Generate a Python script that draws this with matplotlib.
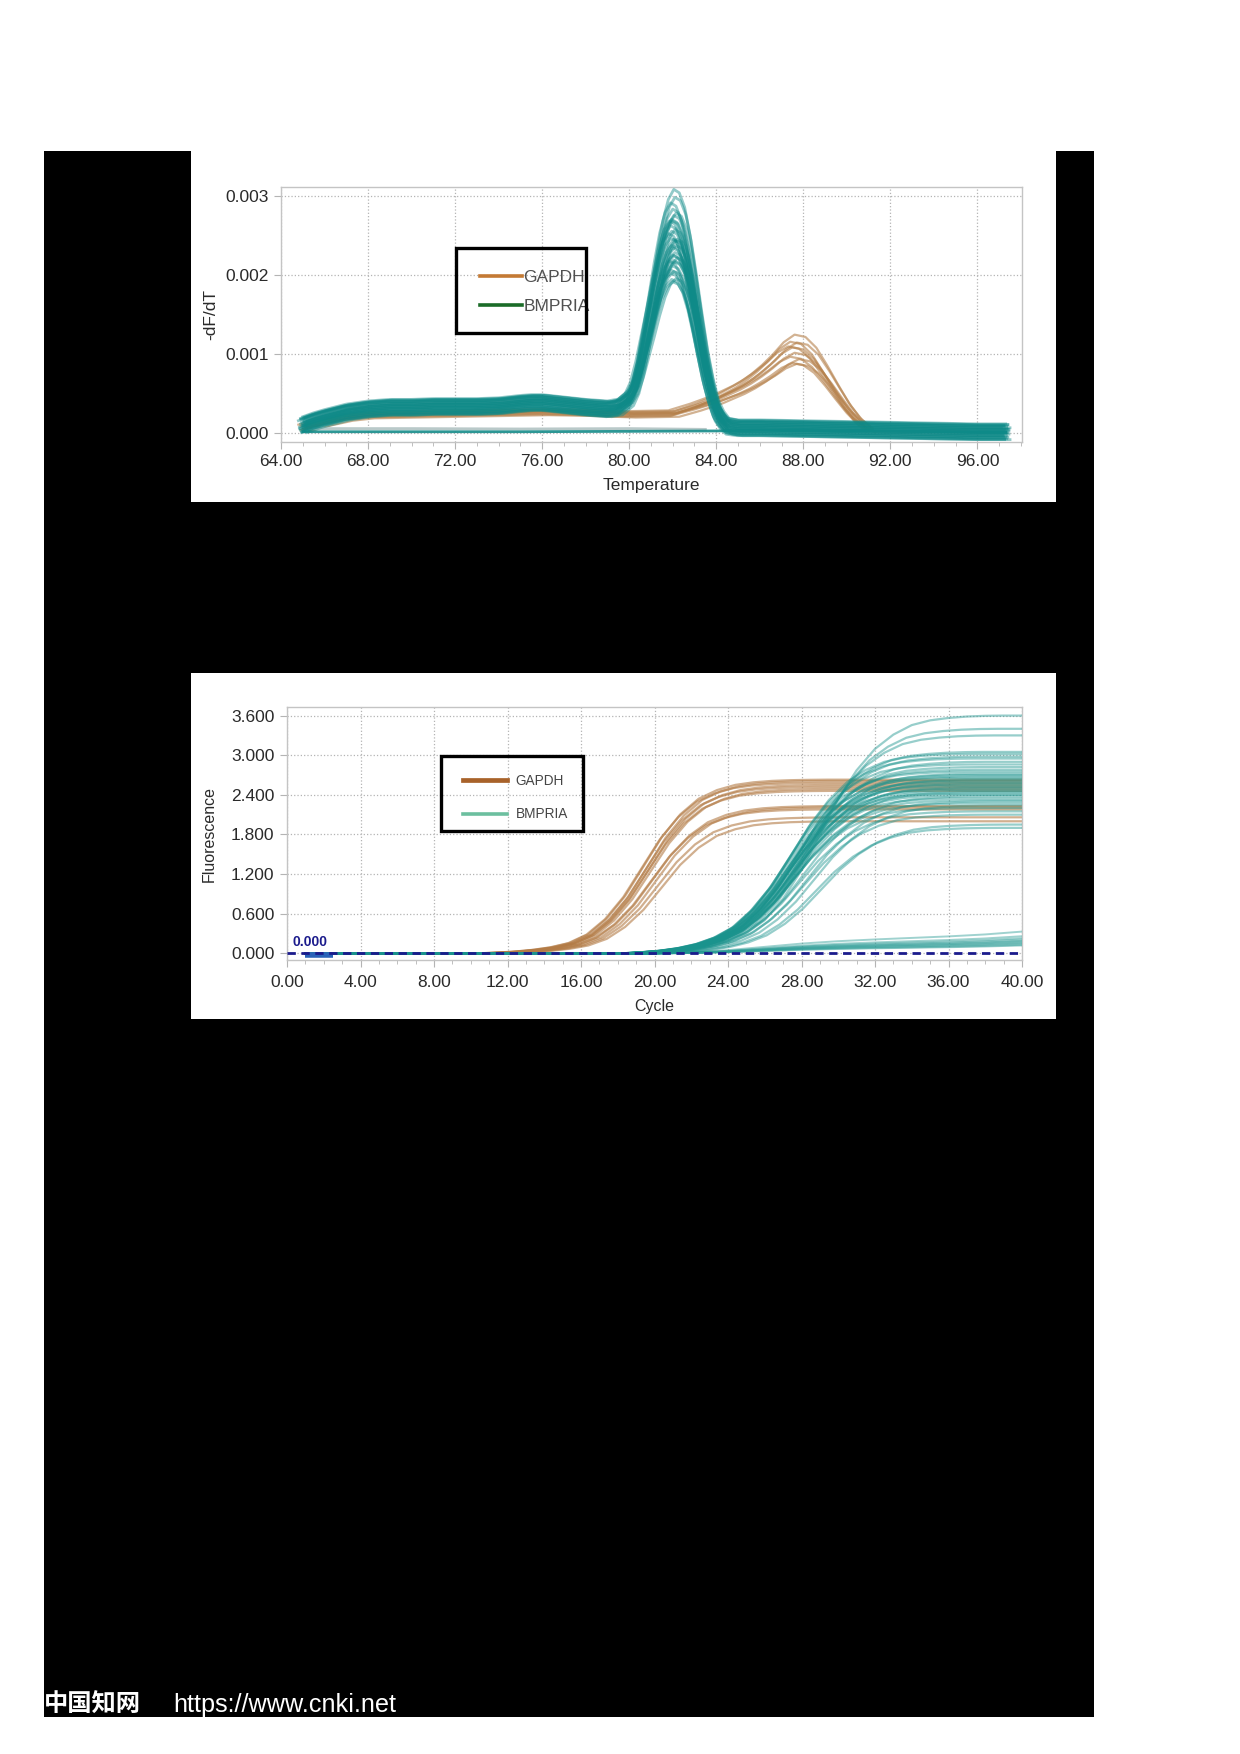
import numpy as np
import matplotlib
matplotlib.use('Agg')
import matplotlib.pyplot as plt
from matplotlib.patches import Rectangle
from matplotlib.lines import Line2D
from matplotlib.ticker import MultipleLocator, FormatStrFormatter

plt.rcParams['font.family'] = ['Liberation Sans', 'DejaVu Sans']

W, H = 1240, 1754

# ---------------- melt curve data (-dF/dT, values in 1e-4) ----------------
teal_temp = [65.0, 65.5, 66.0, 67.0, 68.0, 69.0, 70.0, 71.0, 72.0, 73.0, 74.0, 75.0, 75.5, 76.0,
             77.0, 78.0, 79.0, 79.5,
             80.0, 80.25, 80.5, 80.75, 81.0, 81.25, 81.5, 81.75, 82.0, 82.25, 82.5, 82.75, 83.0,
             83.25, 83.5, 83.75, 84.0, 84.25, 84.5,
             85.0, 86.0, 88.0, 90.0, 92.0, 94.0, 96.0, 97.3]
teal_base = [1.0, 1.5, 1.9, 2.6, 3.0, 3.2, 3.2, 3.3, 3.3, 3.3, 3.4, 3.7, 3.8, 3.8,
             3.5, 3.2, 3.0, 3.0,
             3.0, 2.9, 2.8, 2.7, 2.6, 2.45, 2.3, 2.15, 2.0, 1.85, 1.7, 1.55, 1.4,
             1.2, 1.0, 0.9, 0.8, 0.7, 0.6,
             0.6, 0.6, 0.5, 0.4, 0.3, 0.2, 0.1, 0.1]
teal_shape = [0, 0, 0, 0, 0, 0, 0, 0, 0, 0, 0, 0, 0, 0,
              0, 0, 0, 0.01,
              0.06, 0.13, 0.25, 0.40, 0.55, 0.71, 0.85, 0.95, 1.0, 0.99, 0.93, 0.81, 0.65,
              0.48, 0.32, 0.19, 0.09, 0.04, 0.01,
              0, 0, 0, 0, 0, 0, 0, 0]
teal_melt_peak = [0.00303, 0.00296, 0.00289, 0.00284, 0.00279, 0.00275, 0.00271, 0.00268, 0.00264, 0.00261,
                  0.00258, 0.00255, 0.00252, 0.00250, 0.00247, 0.00244, 0.00241, 0.00238, 0.00236, 0.00233,
                  0.00230, 0.00228, 0.00225, 0.00222, 0.00219, 0.00216, 0.00213, 0.00210, 0.00207, 0.00204,
                  0.00201, 0.00198, 0.00195, 0.00192]
# per-curve baseline offset (1e-4) and temperature shift
teal_melt_offset = [0.6, -0.4, 1.0, 0.0, -0.8, 0.4, -0.2, 0.8, -0.6, 0.2, 1.1, -0.9, 0.4, -0.4, 0.6, 0.0, -0.6,
                    0.9, 0.2, -0.8, 0.8, -0.2, 0.4, -0.4, 0.0, 0.6, -0.6, 0.2, 1.0, -0.9, 0.4, -0.2, 0.8, 0.0]
teal_melt_shift = [0.05, -0.1, 0.1, 0.0, -0.05, 0.15, -0.15, 0.05, 0.1, -0.1, 0.0, 0.2, -0.05, 0.05, -0.2, 0.1,
                   0.0, -0.1, 0.15, 0.05, -0.05, 0.0, 0.1, -0.15, 0.05, 0.2, -0.1, 0.0, 0.1, -0.05, 0.05, 0.15,
                   -0.1, 0.0]

gapdh_temp = [65.0, 65.5, 66.0, 67.0, 68.0, 70.0, 72.0, 74.0, 76.0, 78.0, 80.0, 82.0, 83.0, 84.0, 85.0,
              85.5, 86.0, 86.5, 87.0, 87.5, 88.0, 88.5, 89.0, 89.5, 90.0, 90.5, 91.0]
gapdh_base = [0.7, 1.0, 1.4, 2.0, 2.3, 2.4, 2.5, 2.6, 2.7, 2.6, 2.4, 2.5, 2.7, 2.9, 3.0,
              3.0, 3.0, 2.9, 2.8, 2.7, 2.5, 2.3, 2.0, 1.6, 1.2, 0.8, 0.5]
gapdh_shape = [0, 0, 0, 0, 0, 0, 0, 0, 0, 0, 0, 0, 0.08, 0.18, 0.33,
               0.43, 0.55, 0.70, 0.87, 0.98, 0.97, 0.85, 0.65, 0.44, 0.24, 0.09, 0.0]
gapdh_melt_peak = [0.00122, 0.00119, 0.00114, 0.00110, 0.00106, 0.00102, 0.00098, 0.00095, 0.00091, 0.00087]
gapdh_melt_offset = [0.3, -0.3, 0.1, -0.1, 0.4, 0.0, -0.4, 0.2, -0.2, 0.1]
gapdh_melt_shift = [0.1, -0.1, 0.2, 0.0, -0.2, 0.1, 0.3, -0.1, 0.0, 0.2]

ntc_temp = [65.0, 70.0, 75.0, 80.0, 84.0, 86.0, 90.0, 95.0, 97.3]
ntc_teal = [0.2, 0.2, 0.2, 0.25, 0.3, 0.4, 0.3, 0.2, 0.1]
ntc_gray_temp = [65.5, 70.0, 75.0, 80.0, 83.5]
ntc_gray = [0.6, 0.6, 0.55, 0.6, 0.5]

# ---------------- amplification data ----------------
amp_offset = [-30, -9, -8, -7, -6, -5, -4, -3, -2, -1, 0, 1, 2, 3, 4, 5, 6, 7, 8, 9, 10, 30]
gapdh_frac = [0.0, 0.0, 0.004, 0.01, 0.02, 0.035, 0.06, 0.11, 0.2, 0.33, 0.5, 0.67, 0.8, 0.89, 0.94,
              0.97, 0.985, 0.993, 0.997, 0.999, 1.0, 1.0]
teal_frac = [0.0, 0.0, 0.006, 0.014, 0.028, 0.05, 0.085, 0.14, 0.23, 0.35, 0.5, 0.65, 0.77, 0.86, 0.92,
             0.96, 0.98, 0.99, 0.996, 0.999, 1.0, 1.0]

gapdh_plateau = [2.63, 2.61, 2.58, 2.55, 2.52, 2.49, 2.46, 2.23, 2.21, 2.18, 2.06, 2.00]
gapdh_mid = [19.4, 19.6, 19.3, 19.7, 19.5, 19.8, 19.6, 19.9, 20.1, 19.8, 20.2, 20.4]

teal_plateau = [3.60, 3.40, 3.30, 3.05, 3.02, 2.98, 2.95, 2.90, 2.86, 2.82, 2.78, 2.75, 2.72, 2.70, 2.68,
                2.66, 2.64, 2.62, 2.60, 2.58, 2.56, 2.54, 2.52, 2.50, 2.48, 2.46, 2.44, 2.42, 2.40, 2.38,
                2.35, 2.32, 2.30, 2.27, 2.24, 2.20, 2.15, 2.10, 1.95, 1.90]
teal_mid = [29.0, 28.7, 28.5, 27.9, 27.5, 27.8, 27.4, 28.0, 27.3, 27.7, 27.5, 27.2, 27.8, 27.4, 27.6,
            27.2, 27.9, 27.5, 27.3, 27.7, 27.4, 27.2, 27.8, 27.5, 27.3, 27.6, 27.8, 27.2, 27.5, 28.1,
            27.4, 27.7, 28.4, 27.6, 28.7, 27.5, 27.9, 28.2, 29.1, 28.8]

low_cycle = [1, 20, 22, 24, 26, 28, 30, 32, 34, 36, 38, 40]
low_frac = [0.0, 0.0, 0.05, 0.15, 0.30, 0.45, 0.56, 0.64, 0.71, 0.78, 0.87, 1.0]
low_end = [0.33, 0.26, 0.23, 0.21, 0.19, 0.18, 0.16, 0.15, 0.13, 0.12]

threshold = 0.0
baseline_bar_x = [1.0, 2.5]
baseline_bar_y = [-0.02, -0.02]


def px_rect(left, top, right, bottom):
    return [left / W, 1 - bottom / H, (right - left) / W, (bottom - top) / H]


def style_axes(ax, minor, xpad, ypad):
    for s in ax.spines.values():
        s.set_color('#c4c4c4')
        s.set_linewidth(1.0)
    ax.grid(True, which='major', linestyle=':', color='#b4b4b4', linewidth=0.9)
    ax.set_axisbelow(True)
    ax.xaxis.set_minor_locator(MultipleLocator(minor))
    ax.tick_params(which='major', direction='out', length=5, color='#b4b4b4',
                   labelcolor='#2a2a2a', labelsize=12.5)
    ax.tick_params(axis='x', which='major', pad=xpad)
    ax.tick_params(axis='y', which='major', pad=ypad)
    ax.tick_params(which='minor', direction='out', length=3, color='#b4b4b4')
    ax.tick_params(axis='y', which='minor', left=False)


def amp_curve(mid, plateau, frac):
    x = mid + np.array(amp_offset, dtype=float)
    y = plateau * np.array(frac)
    keep = x >= 1
    return np.r_[1, x[keep]], np.r_[0, y[keep]]


fig = plt.figure(figsize=(W / 100, H / 100), dpi=100)
fig.patch.set_facecolor('white')

# black page background and the two white panels
fig.patches.append(Rectangle((44 / W, 1 - 1717 / H), (1094 - 44) / W, (1717 - 151) / H,
                             transform=fig.transFigure, facecolor='black', edgecolor='none', zorder=-3))
for top, bottom in [(151, 502), (673, 1019)]:
    fig.patches.append(Rectangle((191 / W, 1 - bottom / H), (1056 - 191) / W, (bottom - top) / H,
                                 transform=fig.transFigure, facecolor='white', edgecolor='none', zorder=-2))

# ------------------ melt curve panel ------------------
ax1 = fig.add_axes(px_rect(281, 187, 1022, 442))
for pk, off, sh in zip(gapdh_melt_peak, gapdh_melt_offset, gapdh_melt_shift):
    h = (pk - 0.00027) / 0.98
    y = (np.array(gapdh_base) + off) * 1e-4 + h * np.array(gapdh_shape)
    ax1.plot(np.array(gapdh_temp) + sh, y, color='#b5804a', lw=1.6, alpha=0.6, zorder=2)

ax1.plot(ntc_gray_temp, np.array(ntc_gray) * 1e-4, color='#b9c9c9', lw=2, zorder=2)
ax1.plot(ntc_temp, np.array(ntc_teal) * 1e-4, color='#168c8a', lw=2, alpha=0.9, zorder=2)

for pk, off, sh in zip(teal_melt_peak, teal_melt_offset, teal_melt_shift):
    h = pk - 0.0002
    y = (np.array(teal_base) + off) * 1e-4 + h * np.array(teal_shape)
    ax1.plot(np.array(teal_temp) + sh, y, color='#0e8a88', lw=2.0, alpha=0.45, zorder=3)

ax1.set_xlim(64, 98.05)
ax1.set_ylim(-0.00011, 0.00312)
ax1.xaxis.set_major_locator(MultipleLocator(4))
ax1.yaxis.set_major_locator(MultipleLocator(0.001))
ax1.xaxis.set_major_formatter(FormatStrFormatter('%.2f'))
ax1.yaxis.set_major_formatter(FormatStrFormatter('%.3f'))
style_axes(ax1, 1, 4, 4)
ax1.set_xlabel('Temperature', fontsize=12.5, color='#2a2a2a', labelpad=6)
ax1.set_ylabel('-dF/dT', fontsize=12.5, color='#2a2a2a', labelpad=5)

handles1 = [Line2D([], [], color='#c47a34', lw=2.6), Line2D([], [], color='#1b6c28', lw=2.6)]
ax1.legend(handles1, ['GAPDH', 'BMPRIA'], loc='center left', bbox_to_anchor=(0.2686, 0.5895),
           frameon=False, fontsize=12.5, labelcolor='#505050', handlelength=2.4, handletextpad=0.1,
           labelspacing=0.8, borderpad=0, borderaxespad=0)
ax1.add_patch(Rectangle((0.2362, 0.4269), 0.4116 - 0.2362, 0.7599 - 0.4269, transform=ax1.transAxes,
                        fill=False, edgecolor='black', lw=2.4, zorder=6, clip_on=False))

# ------------------ amplification panel ------------------
ax2 = fig.add_axes(px_rect(287, 707, 1022, 960))
for p, m in zip(gapdh_plateau, gapdh_mid):
    x, y = amp_curve(m, p, gapdh_frac)
    ax2.plot(x, y, color='#b37b45', lw=1.6, alpha=0.6, zorder=2)

for e in low_end:
    ax2.plot(low_cycle, e * np.array(low_frac), color='#2b9c96', lw=1.4, alpha=0.45, zorder=3)

for p, m in zip(teal_plateau, teal_mid):
    x, y = amp_curve(m, p, teal_frac)
    ax2.plot(x, y, color='#1a938d', lw=1.6, alpha=0.45, zorder=3)

ax2.plot(baseline_bar_x, baseline_bar_y, color='#2a63b8', lw=4, solid_capstyle='butt', zorder=4)
ax2.axhline(threshold, color='#1b1b8c', lw=2, linestyle=(0, (3, 2)), zorder=5)
ax2.text(0.3, 0.07, '%.3f' % threshold, color='#1b1b8c', fontsize=10, fontweight='bold',
         va='bottom', ha='left', zorder=5)

ax2.set_xlim(0, 40)
ax2.set_ylim(-0.10, 3.73)
ax2.xaxis.set_major_locator(MultipleLocator(4))
ax2.yaxis.set_major_locator(MultipleLocator(0.6))
ax2.xaxis.set_major_formatter(FormatStrFormatter('%.2f'))
ax2.yaxis.set_major_formatter(FormatStrFormatter('%.3f'))
style_axes(ax2, 1, 5.5, 4)
ax2.set_xlabel('Cycle', fontsize=11.5, color='#2a2a2a', labelpad=7)
ax2.set_ylabel('Fluorescence', fontsize=11.5, color='#2a2a2a', labelpad=10.5)

handles2 = [Line2D([], [], color='#a8622a', lw=3.4), Line2D([], [], color='#6cbf9f', lw=2.6)]
ax2.legend(handles2, ['GAPDH', 'BMPRIA'], loc='center left', bbox_to_anchor=(0.2395, 0.6423),
           frameon=False, fontsize=9.8, labelcolor='#454545', handlelength=3.2, handletextpad=0.68,
           labelspacing=1.45, borderpad=0, borderaxespad=0)
ax2.add_patch(Rectangle((0.2091, 0.5099), 0.4023 - 0.2091, 0.8063 - 0.5099, transform=ax2.transAxes,
                        fill=False, edgecolor='black', lw=2.4, zorder=6, clip_on=False))

# ------------------ watermark ------------------
fig.text(44 / W, 1 - 1712 / H, '中国知网', color='white', fontsize=17.5, fontweight='bold',
         family=['Noto Sans CJK SC', 'DejaVu Sans'], va='baseline', ha='left')
fig.text(173 / W, 1 - 1712 / H, 'https://www.cnki.net', color='white', fontsize=18.2,
         va='baseline', ha='left')

fig.savefig('out.png', dpi=100, facecolor='white')
